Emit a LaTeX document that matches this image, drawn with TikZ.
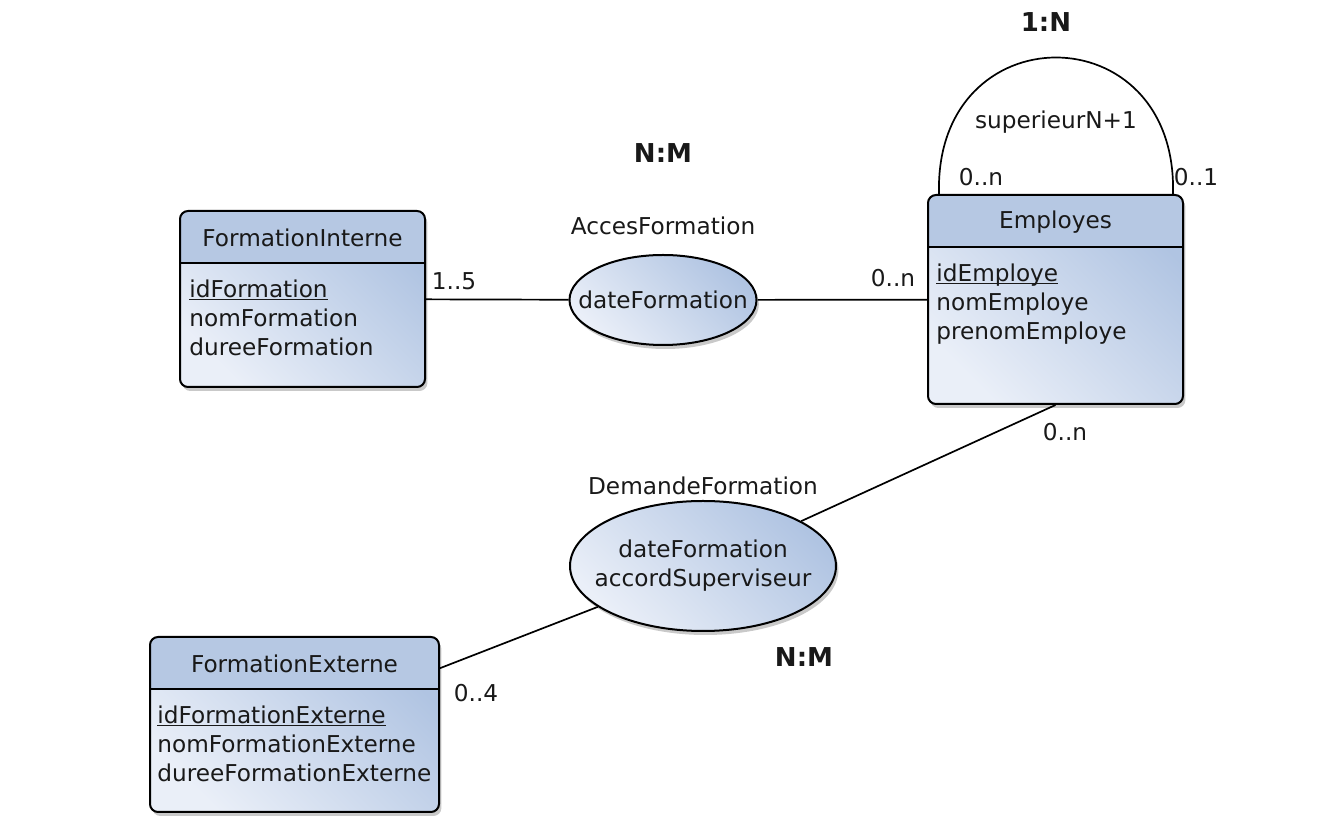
\documentclass[tikz,border=0pt]{standalone}
\usepackage{fontspec}
\setmainfont{DejaVu Sans}
\usepackage{xcolor}
\definecolor{erhead}{RGB}{182,200,227}
\definecolor{erlight}{RGB}{234,239,248}
\definecolor{erdark}{RGB}{176,196,226}
\definecolor{ertext}{RGB}{25,25,25}
\usepackage{tikz}
\usetikzlibrary{positioning,shapes.geometric,shadows}
\newcommand{\pkey}[1]{\underline{\raisebox{0pt}[\height][0pt]{#1}}}

\begin{document}
\begin{tikzpicture}[
  x=0.5pt, y=-0.5pt,
  font=\fontsize{11.6}{14.5}\selectfont, text=ertext,
  entity/.style={draw, line width=1pt, rounded corners=4pt, inner sep=0pt,
    left color=erlight, right color=erdark, shading angle=135,
    drop shadow={shadow xshift=1.2pt, shadow yshift=-2pt, opacity=0.3, fill=black!70},
    path picture={
      \fill[erhead, sharp corners] (path picture bounding box.north west) rectangle ([yshift=-26pt]path picture bounding box.north east);
      \draw[line width=1pt] ([yshift=-26pt]path picture bounding box.north west) -- ([yshift=-26pt]path picture bounding box.north east);}},
  relation/.style={ellipse, draw, line width=1pt, inner sep=0pt,
    left color=erlight, right color=erdark, shading angle=135,
    drop shadow={shadow xshift=1.2pt, shadow yshift=-2pt, opacity=0.3, fill=black!70}},
  title/.style={inner sep=0pt},
  attrs/.style={inner sep=0pt, align=left, anchor=north west},
  card/.style={inner sep=1pt},
  kind/.style={font=\fontsize{13}{16}\selectfont\bfseries},
  link/.style={line width=0.85pt}]
  \useasboundingbox (0,0) rectangle (1324,838);
  % entites
  \node[entity, minimum width=122.5pt, minimum height=88pt] (fi) at (302.5,299) {};
  \node[title] (fiT) at ([yshift=-14pt]fi.north) {FormationInterne};
  \node[attrs] (fiA) at ([xshift=5pt,yshift=-34.5pt]fi.north west) {\pkey{idFormation}\\nomFormation\\dureeFormation};
  \node[entity, minimum width=127.5pt, minimum height=104.5pt] (emp) at (1055.5,299.5) {};
  \node[title] (empT) at ([yshift=-14pt]emp.north) {Employes};
  \node[attrs] (empA) at ([xshift=4.5pt,yshift=-34.5pt]emp.north west) {\pkey{idEmploye}\\nomEmploye\\prenomEmploye};
  \node[entity, minimum width=144.5pt, minimum height=87.5pt] (fe) at (294.5,724.5) {};
  \node[title] (feT) at ([yshift=-14pt]fe.north) {FormationExterne};
  \node[attrs] (feA) at ([xshift=4pt,yshift=-34.5pt]fe.north west) {\pkey{idFormationExterne}\\nomFormationExterne\\dureeFormationExterne};
  % associations
  \node[relation, minimum width=93.5pt, minimum height=45pt] (af) at (663,300) {};
  \node[title] (afT) at (af) {dateFormation};
  \node[above=6pt of af] (afN) {AccesFormation};
  \node[relation, minimum width=133pt, minimum height=65pt] (df) at (703,566) {};
  \node[title, align=center] (dfT) at (df) {dateFormation\\accordSuperviseur};
  \node[above=-1pt of df] (dfN) {DemandeFormation};
  % liens
  \draw[link] (fi) -- (af);
  \draw[link] (af) -- (emp);
  \draw[link] (emp.south) -- (df);
  \draw[link] (df) -- (fe);
  \coordinate (loopL) at ([xshift=6pt]emp.north west);
  \coordinate (loopR) at ([xshift=-5.5pt]emp.north east);
  \draw[link] (loopL) .. controls +(-2.5pt,91pt) and +(2.5pt,91pt) .. (loopR);
  % cardinalites
  \node[card] at (454,281) {1..5};
  \node[card] at (893,278) {0..n};
  \node[card] at (981,177) {0..n};
  \node[card] at (1196,177) {0..1};
  \node[card] at (1056,122) {superieurN+1};
  \node[card] at (1065,432) {0..n};
  \node[card] at (476,693) {0..4};
  \node[kind] at (663,153) {N:M};
  \node[kind] at (804,657) {N:M};
  \node[kind] at (1046,22) {1:N};
\end{tikzpicture}
\end{document}
